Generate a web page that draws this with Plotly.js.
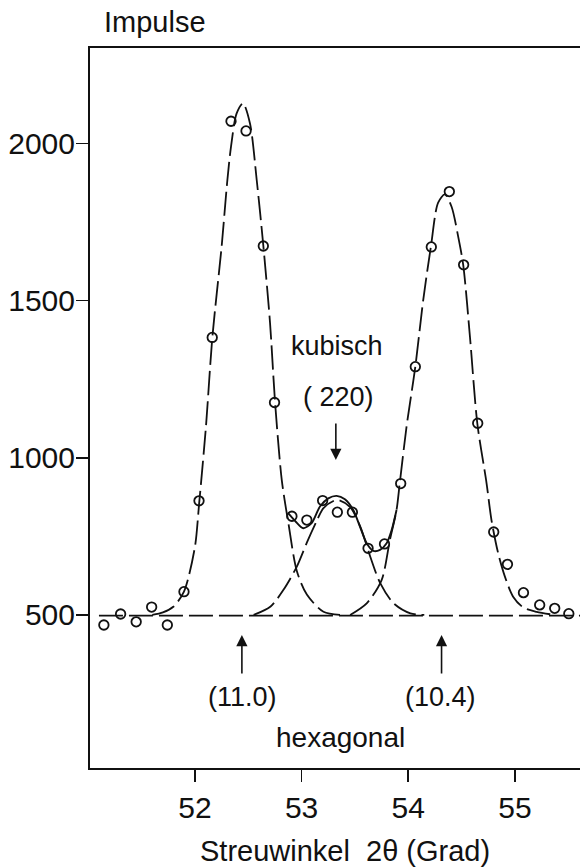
<!DOCTYPE html>
<html>
<head>
<meta charset="utf-8">
<script src="https://cdn.plot.ly/plotly-3.0.1.min.js"></script>
<style>html,body{margin:0;padding:0;background:#fff;}#chart{width:580px;height:868px;}</style>
</head>
<body>
<div id="chart"></div>
<script>
// Measured points (open circles)
const angle = [51.146, 51.303, 51.449, 51.594, 51.741, 51.897, 52.038, 52.162, 52.338, 52.479, 52.641, 52.746, 52.909, 53.049, 53.197, 53.335, 53.476, 53.623, 53.777, 53.929, 54.066, 54.216, 54.385, 54.519, 54.651, 54.801, 54.930, 55.080, 55.232, 55.373, 55.505];
const counts = [468, 503, 478, 525, 468, 574, 863, 1383, 2071, 2040, 1674, 1176, 814, 802, 864, 827, 827, 712, 726, 918, 1290, 1671, 1847, 1614, 1110, 764, 661, 571, 532, 521, 504];

// Dashed component: hexagonal (11.0)
const peak1X = [51.60, 51.70, 51.797, 51.897, 52.0, 52.038, 52.103, 52.163, 52.25, 52.304, 52.338, 52.39, 52.45, 52.516, 52.579, 52.641, 52.704, 52.751, 52.814, 52.876, 52.955, 53.049, 53.205, 53.36];
const peak1Y = [500, 508, 526, 574, 717, 850, 1099, 1383, 1672, 1884, 1990, 2095, 2128, 2064, 1884, 1675, 1429, 1177, 929, 792, 640, 565, 510, 500];

// Dashed component: kubisch (220)
const peak2X = [52.55, 52.709, 52.83, 52.955, 53.049, 53.143, 53.205, 53.33, 53.455, 53.55, 53.643, 53.737, 53.862, 54.02, 54.15];
const peak2Y = [500, 527, 580, 654, 730, 800, 840, 866, 843, 781, 686, 601, 537, 505, 500];

// Dashed component: hexagonal (10.4)
const peak3X = [53.455, 53.61, 53.75, 53.828, 53.89, 53.92, 53.984, 54.066, 54.14, 54.212, 54.28, 54.343, 54.406, 54.468, 54.515, 54.578, 54.647, 54.734, 54.78, 54.843, 54.906, 54.983, 55.077, 55.203, 55.374];
const peak3Y = [500, 537, 611, 739, 834, 919, 1100, 1290, 1502, 1672, 1812, 1838, 1799, 1704, 1614, 1386, 1110, 919, 802, 696, 622, 558, 524, 510, 500];

// Solid sum curve in the overlap region
const sumX = [52.876, 52.95, 53.015, 53.094, 53.172, 53.25, 53.328, 53.406, 53.484, 53.547, 53.61, 53.672, 53.735, 53.797, 53.844, 53.89];
const sumY = [823, 795, 776, 792, 845, 871, 879, 868, 834, 781, 728, 704, 707, 728, 770, 834];

// Background line
const baseX = [51.10, 55.61];
const baseY = [498, 498];

const xTicks = [52, 53, 54, 55];
const yTicks = [500, 1000, 1500, 2000];

const FONT = 'Liberation Sans, Arial, sans-serif';
const INK = '#111';
const DASH = '24px,6px';

const traces = [
  {x: baseX, y: baseY, mode: 'lines', line: {color: INK, width: 1.8, dash: DASH}, hoverinfo: 'skip'},
  {x: peak1X, y: peak1Y, mode: 'lines', line: {color: INK, width: 1.8, dash: DASH, shape: 'spline', smoothing: 0.8}},
  {x: peak2X, y: peak2Y, mode: 'lines', line: {color: INK, width: 1.8, dash: DASH, shape: 'spline', smoothing: 0.8}},
  {x: peak3X, y: peak3Y, mode: 'lines', line: {color: INK, width: 1.8, dash: DASH, shape: 'spline', smoothing: 0.8}},
  {x: sumX, y: sumY, mode: 'lines', line: {color: INK, width: 1.9, shape: 'spline', smoothing: 0.8}},
  {x: angle, y: counts, mode: 'markers', marker: {symbol: 'circle-open', size: 9.5, color: INK, line: {width: 1.8, color: INK}}}
];

const arrowStyle = {showarrow: true, arrowhead: 2, arrowsize: 1.4, arrowwidth: 1.6, arrowcolor: INK, axref: 'x', ayref: 'y', text: ''};

const layout = {
  width: 580, height: 868,
  margin: {l: 90, r: 0, t: 48, b: 100},
  paper_bgcolor: '#fff', plot_bgcolor: '#fff',
  showlegend: false,
  font: {family: FONT, size: 30, color: INK},
  xaxis: {
    range: [51.016, 55.61], showgrid: false, zeroline: false,
    showline: true, linecolor: INK, linewidth: 2, mirror: true,
    ticks: 'outside', ticklen: 12, tickwidth: 1.6, tickcolor: INK,
    tickvals: xTicks, ticktext: xTicks.map(String),
    tickfont: {family: FONT, size: 30, color: INK}
  },
  yaxis: {
    range: [13, 2304], showgrid: false, zeroline: false,
    showline: true, linecolor: INK, linewidth: 2,
    ticks: 'outside', ticklen: 12, tickwidth: 1.6, tickcolor: INK,
    ticklabelstandoff: -5,
    tickvals: yTicks, ticktext: yTicks.map(String),
    tickfont: {family: FONT, size: 30, color: INK}
  },
  annotations: [
    {xref: 'paper', yref: 'paper', x: 0.0245, y: 1.036, xanchor: 'left', yanchor: 'middle', text: 'Impulse', showarrow: false, font: {size: 29}},
    {xref: 'x', yref: 'y', x: 53.33, y: 1356, text: 'kubisch', showarrow: false, font: {size: 27}},
    {xref: 'x', yref: 'y', x: 53.35, y: 1195, text: '( 220)', showarrow: false, font: {size: 27}},
    Object.assign({}, arrowStyle, {x: 53.321, y: 993, ax: 53.321, ay: 1114}),
    Object.assign({}, arrowStyle, {x: 52.44, y: 436, ax: 52.44, ay: 309}),
    Object.assign({}, arrowStyle, {x: 54.312, y: 436, ax: 54.312, ay: 309}),
    {xref: 'x', yref: 'y', x: 52.446, y: 239, text: '(11.0)', showarrow: false, font: {size: 27}},
    {xref: 'x', yref: 'y', x: 54.305, y: 239, text: '(10.4)', showarrow: false, font: {size: 27}},
    {xref: 'x', yref: 'y', x: 53.368, y: 109, text: 'hexagonal', showarrow: false, font: {size: 28}},
    {xref: 'paper', yref: 'paper', x: 0.521, y: -0.115, xanchor: 'center', yanchor: 'middle', text: 'Streuwinkel&nbsp;&nbsp;2\u03B8 (Grad)', showarrow: false, font: {size: 29}}
  ]
};

Plotly.newPlot('chart', traces, layout, {displayModeBar: false, staticPlot: true});
</script>
</body>
</html>
